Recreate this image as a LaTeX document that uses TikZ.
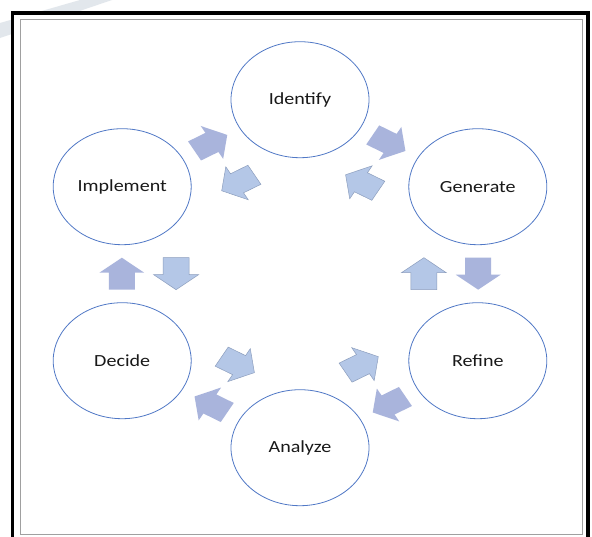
\documentclass[tikz,border=0pt]{standalone}
\usepackage{fontspec}
\setmainfont{Carlito}
\newfontfamily\labelfont[FakeStretch=1.18]{Carlito}
\usetikzlibrary{shapes.geometric}

\definecolor{ringblue}{RGB}{80,120,198}
\definecolor{fwdfill}{RGB}{169,180,220}
\definecolor{backfill}{RGB}{180,199,231}
\definecolor{backedge}{RGB}{140,158,190}
\definecolor{labeltext}{RGB}{25,25,25}
\definecolor{streak}{RGB}{226,231,236}
\definecolor{innerframe}{RGB}{160,160,160}

\tikzset{
  stage/.style={ellipse, draw=ringblue, line width=0.8pt,
    minimum width=138pt, minimum height=116pt, inner sep=0pt,
    font={\fontsize{17}{20}\selectfont\labelfont}, text=labeltext},
  fwd/.style={fill=fwdfill, draw=none},
  back/.style={fill=backfill, draw=backedge, line width=0.5pt},
}

% block arrow: style, centre, direction
\newcommand\blockarr[3]{%
  \path[#1, shift={(#2)}, rotate=#3] (-16,-11) -- (1,-11) -- (1,-19)
    -- (16,0) -- (1,19) -- (1,11) -- (-16,11) -- cycle;}

\begin{document}
\begin{tikzpicture}[x=1pt, y=1pt]
  % page and frame
  \useasboundingbox (0,0) rectangle (592,-536);
  \clip (0,0) rectangle (592,-536);
  \fill[white] (0,0) rectangle (592,-536);
  \fill[streak] (0,-23) -- (80,0) -- (112,0) -- (0,-38) -- cycle;
  \draw[line width=3.5pt, fill=white] (12.5,-13) rectangle (588,-548);
  \draw[innerframe, line width=1pt] (20,-19) rectangle (582,-534);

  % the cycle, laid out on a hexagon and stretched horizontally
  \begin{scope}[shift={(300,-273.7)}, xscale=1.18]
    \node[stage] (ident)   at (90:174)  {Identify};
    \node[stage] (gener)   at (30:174)  {Generate};
    \node[stage] (refine)  at (-30:174) {Refine};
    \node[stage] (analyze) at (-90:174) {Analyze};
    \node[stage] (decide)  at (210:174) {Decide};
    \node[stage] (impl)    at (150:174) {Implement};

    % clockwise arrows, midway between neighbouring stages
    \blockarr{fwd}{120:151}{30}
    \blockarr{fwd}{60:151}{-30}
    \blockarr{fwd}{0:151}{-90}
    \blockarr{fwd}{-60:151}{-150}
    \blockarr{fwd}{-120:151}{150}
    \blockarr{fwd}{180:151}{90}

    % counter-clockwise arrows, on the inner ring
    \blockarr{back}{120:105}{210}
    \blockarr{back}{60:105}{150}
    \blockarr{back}{0:105}{90}
    \blockarr{back}{-60:105}{30}
    \blockarr{back}{-120:105}{-30}
    \blockarr{back}{180:105}{-90}
  \end{scope}
\end{tikzpicture}
\end{document}
